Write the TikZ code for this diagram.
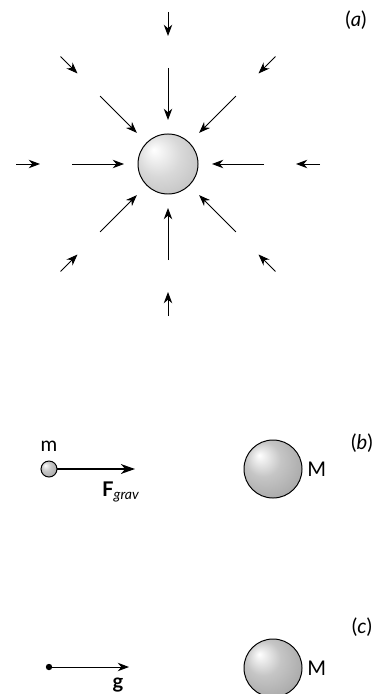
\documentclass[tikz,border=0pt]{standalone}
\usepackage{fontspec}
\setmainfont{Lato}
\usetikzlibrary{arrows.meta}

\pgfdeclareradialshading{sphere}{\pgfpoint{-12bp}{12bp}}{%
  color(0bp)=(white); color(18bp)=(gray!30); color(45bp)=(gray!60); color(50bp)=(gray!65)}
\pgfdeclareradialshading{darksphere}{\pgfpoint{-12bp}{12bp}}{%
  color(0bp)=(white); color(15bp)=(gray!45); color(45bp)=(gray!85); color(50bp)=(gray!90)}

\tikzset{
  field/.style={line width=0.7pt, -{Stealth[length=8pt, width=6pt, inset=2.5pt]}},
  pull/.style={line width=1.3pt, -{Stealth[length=10pt, width=7pt, inset=3pt]}},
  ball/.style={circle, draw, line width=0.7pt, inner sep=0pt},
  panel/.style={font=\Large}
}

\begin{document}
\begin{tikzpicture}[x=0.025cm, y=-0.025cm]
  \useasboundingbox (0,0) rectangle (379,694);

  % (a) field lines around the mass
  \node[ball, shading=sphere, minimum size=1.5cm] (big) at (168,164) {};
  \foreach \a in {0,45,...,315} {
    \draw[field] (big.center) ++(\a:96) coordinate (in\a) -- ++(\a+180:52);
    \draw[field] (big.center) ++(\a:152) coordinate (out\a) -- ++(\a+180:24);
  }
  \node[panel] (lbla) at (356,20) {(\textit{a})};

  % (b) force on a small mass
  \node[ball, shading=darksphere, minimum size=0.4cm] (m) at (49,469) {};
  \coordinate (ftip) at (135,469);
  \draw[pull] (m.east) -- (ftip);
  \node[font=\Large] (lblm) at (49,446) {m};
  \node[font=\Large] (lblF) at (121,492) {\textbf{F}\textsubscript{\textit{grav}}};
  \node[ball, shading=darksphere, minimum size=1.45cm] (Mb) at (273,469) {};
  \node[anchor=west, font=\Large] (lblMb) at (Mb.east) {M};
  \node[panel] (lblb) at (362,443) {(\textit{b})};

  % (c) field at a point
  \node[circle, fill, inner sep=0pt, minimum size=0.16cm] (pt) at (49,667) {};
  \coordinate (gtip) at (129,667);
  \draw[field] (pt) -- (gtip);
  \node[font=\Large] (lblg) at (118,685) {\textbf{g}};
  \node[ball, shading=darksphere, minimum size=1.45cm] (Mc) at (273,668) {};
  \node[anchor=west, font=\Large] (lblMc) at (Mc.east) {M};
  \node[panel] (lblc) at (362,627) {(\textit{c})};

\end{tikzpicture}
\end{document}
